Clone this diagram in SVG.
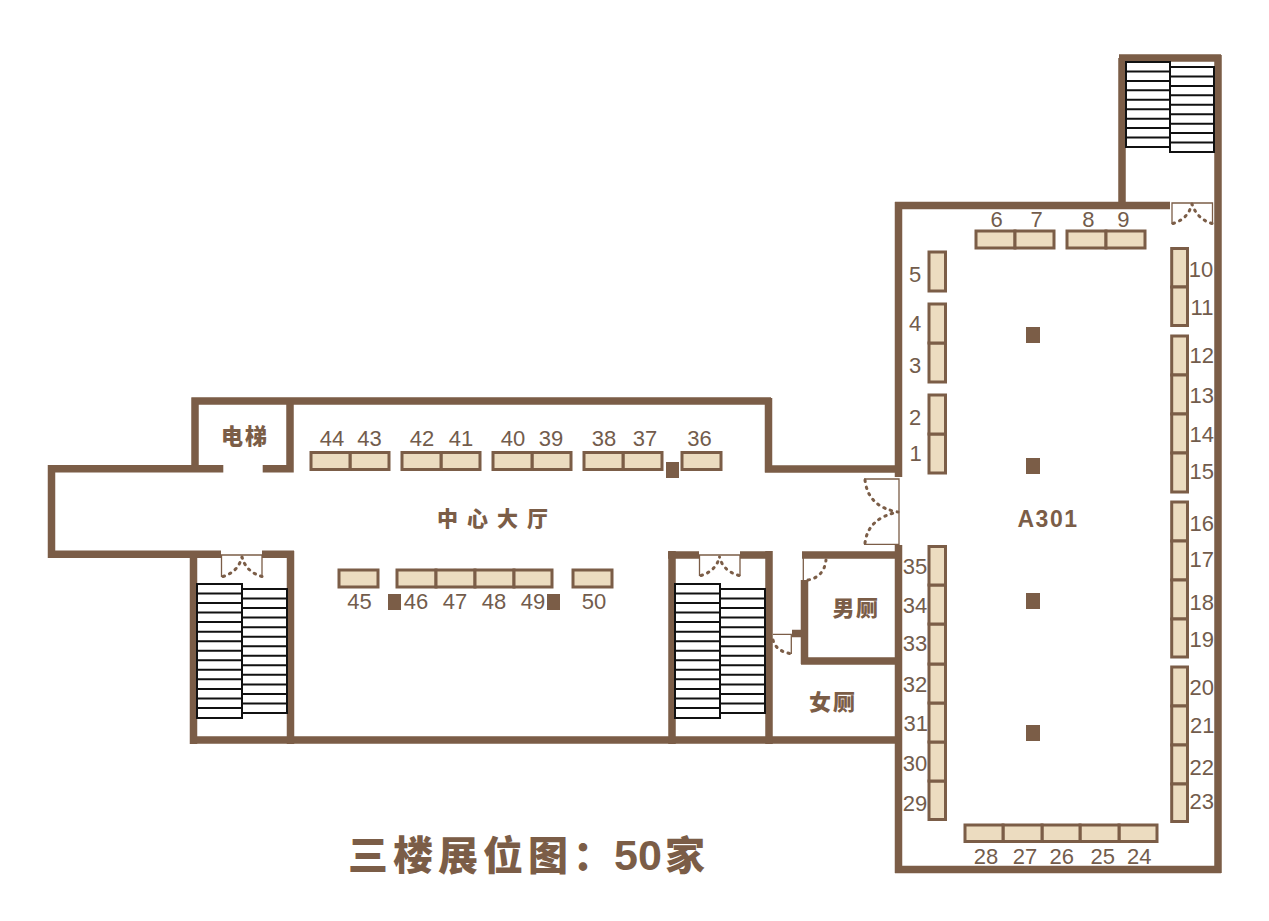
<svg xmlns="http://www.w3.org/2000/svg" width="1269" height="921" viewBox="0 0 1269 921">
<style>
.w{fill:none;stroke:#7b5d47;stroke-width:7.500}
.b{fill:#ecdcc0;stroke:#7b5d47;stroke-width:3}
.p{fill:#7b5d47}
.s{fill:#fff;stroke:#111;stroke-width:2}
.d{fill:none;stroke:#7b5d47;stroke-width:1.300}
.a{fill:none;stroke:#7b5d47;stroke-width:3;stroke-dasharray:1.500 5.500;stroke-linecap:round}
text{fill:#7b5d47;font-family:"Liberation Sans","Noto Sans CJK SC",sans-serif}
.n{font-size:22px;text-anchor:middle;fill:#725c4c;transform:translateY(.7px)}
.c{font-family:"Noto Sans CJK SC","Liberation Sans",sans-serif;font-weight:900;font-size:22px;text-anchor:middle}
</style>
<rect width="1269" height="921" fill="#fff"/>
<g id="connectors">
<path class="w" d="M1170 205.500H895M898.500 202V477M898.500 545V873M895 869.500H1221M1218 55V873M1119 58H1221M1122 58V205"/>
<path class="w" d="M191.500 401H771M195 397.500V469M290 401V472.500M48 468.700H223.300M262.700 468.700H293.500M51.500 465V558M48 554.300H221M262 554.300H294M193.500 551V744M290.500 551V744M190 740H898M768.500 398V472.500M765 469H899"/>
<path class="w" d="M668 555H699M740 555H772.700M672 551V744M769 551V744M802 555H901M804.500 580V664M801 661H898M792 633.500H804.500"/>
</g>
<g id="stairs">
<path class="s" d="M1126 62H1170V147H1126ZM1126 71.500H1170M1126 81H1170M1126 90.300H1170M1126 99.800H1170M1126 109.200H1170M1126 118.700H1170M1126 128.100H1170M1126 137.600H1170"/>
<path class="s" d="M1170 67H1214V152H1170ZM1170 76.500H1214M1170 86H1214M1170 95.300H1214M1170 104.800H1214M1170 114.200H1214M1170 123.700H1214M1170 133.100H1214M1170 142.600H1214"/>
<path class="s" d="M197 584H242V718H197ZM197 593.500H242M197 603.100H242M197 612.600H242M197 622.100H242M197 631.700H242M197 641.200H242M197 650.700H242M197 660.300H242M197 669.800H242M197 679.300H242M197 688.900H242M197 698.400H242M197 707.900H242"/>
<path class="s" d="M242 589H287V713H242ZM242 598.500H287M242 608.100H287M242 617.600H287M242 627.200H287M242 636.700H287M242 646.200H287M242 655.800H287M242 665.300H287M242 674.800H287M242 684.400H287M242 693.900H287M242 703.500H287"/>
<path class="s" d="M675 584H720V718H675ZM675 593.500H720M675 603.100H720M675 612.600H720M675 622.100H720M675 631.700H720M675 641.200H720M675 650.700H720M675 660.300H720M675 669.800H720M675 679.300H720M675 688.900H720M675 698.400H720M675 707.900H720"/>
<path class="s" d="M720 589H765V713H720ZM720 598.500H765M720 608.100H765M720 617.600H765M720 627.200H765M720 636.700H765M720 646.200H765M720 655.800H765M720 665.300H765M720 674.800H765M720 684.400H765M720 693.900H765M720 703.500H765"/>
</g>
<g id="doors">
<path class="d" d="M1172 224V203H1212.500V224"/>
<path class="a" d="M1173 223.500Q1188 219 1192 204M1212 223.500Q1197 219 1192 204"/>
<path class="d" d="M221.500 577V555H262V577"/>
<path class="a" d="M223 576.500Q238 572 242 557M262 576.500Q246 572 242 557"/>
<path class="d" d="M699.500 576V555H740V576"/>
<path class="a" d="M701 575.500Q716 571 719.500 557M739 575.500Q723 571 719.500 557"/>
<path class="d" d="M864 479H899V544.300H864"/>
<path class="a" d="M865 480Q868 507 898 512M865 543Q868 518 898 512"/>
<path class="d" d="M803.300 556V580"/>
<path class="a" d="M808 580Q824 577 826 560"/>
<path class="d" d="M773 634.300H791.300V654"/>
<path class="a" d="M773 640Q776 651 790 653.500"/>
</g>
<g id="pillars">
<rect class="p" x="1026" y="327" width="14" height="16"/>
<rect class="p" x="1026" y="458" width="14" height="16"/>
<rect class="p" x="1026" y="593" width="14" height="16"/>
<rect class="p" x="1026" y="725" width="14" height="16"/>
<rect class="p" x="666" y="462" width="13" height="16"/>
<rect class="p" x="388" y="594" width="13" height="16"/>
<rect class="p" x="547" y="594" width="13" height="16"/>
</g>
<g id="room-labels">
<text class="c" x="245" y="444" style="letter-spacing:2px">电梯</text>
<text class="c" x="497" y="526" style="font-size:21px;letter-spacing:9px">中心大厅</text>
<text class="c" x="856" y="615.500" style="letter-spacing:1.500px">男厕</text>
<text class="c" x="833" y="710" style="letter-spacing:2px">女厕</text>
<text x="1048" y="526.700" style="font-size:23px;font-weight:700;letter-spacing:1.500px;text-anchor:middle">A301</text>
<text y="869.500" style="font-family:'Liberation Sans','Noto Sans CJK SC',sans-serif;font-size:40px;font-weight:900"><tspan x="348" style="letter-spacing:5px">三楼展位图：</tspan><tspan x="614" style="font-size:43px;font-weight:700">50</tspan><tspan x="665">家</tspan></text>
</g>
<g id="booth-1"><rect class="b" x="929" y="434" width="16.500" height="39"/><text class="n" x="915.500" y="460.700">1</text></g>
<g id="booth-2"><rect class="b" x="929" y="395" width="16.500" height="39"/><text class="n" x="915" y="424.300">2</text></g>
<g id="booth-3"><rect class="b" x="929" y="343" width="16.500" height="39"/><text class="n" x="915" y="372.700">3</text></g>
<g id="booth-4"><rect class="b" x="929" y="304" width="16.500" height="39"/><text class="n" x="915" y="330.700">4</text></g>
<g id="booth-5"><rect class="b" x="929" y="252" width="16.500" height="39"/><text class="n" x="915" y="281">5</text></g>
<g id="booth-6"><rect class="b" x="976" y="231" width="39" height="17"/><text class="n" x="996.700" y="226.700">6</text></g>
<g id="booth-7"><rect class="b" x="1015" y="231" width="39" height="17"/><text class="n" x="1036.700" y="226.700">7</text></g>
<g id="booth-8"><rect class="b" x="1067" y="231" width="39" height="17"/><text class="n" x="1088.300" y="226.700">8</text></g>
<g id="booth-9"><rect class="b" x="1106" y="231" width="39" height="17"/><text class="n" x="1123.300" y="226.700">9</text></g>
<g id="booth-10"><rect class="b" x="1171.700" y="248.500" width="15.800" height="38.500"/><text class="n" x="1201" y="276.700">10</text></g>
<g id="booth-11"><rect class="b" x="1171.700" y="287" width="15.800" height="38.500"/><text class="n" x="1202" y="314">11</text></g>
<g id="booth-12"><rect class="b" x="1171.700" y="336" width="15.800" height="39"/><text class="n" x="1201.700" y="362.700">12</text></g>
<g id="booth-13"><rect class="b" x="1171.700" y="375" width="15.800" height="39"/><text class="n" x="1201.700" y="402">13</text></g>
<g id="booth-14"><rect class="b" x="1171.700" y="414" width="15.800" height="39"/><text class="n" x="1201.700" y="441.300">14</text></g>
<g id="booth-15"><rect class="b" x="1171.700" y="453" width="15.800" height="39"/><text class="n" x="1201.700" y="478.300">15</text></g>
<g id="booth-16"><rect class="b" x="1171.700" y="502" width="15.800" height="39"/><text class="n" x="1201.700" y="530.700">16</text></g>
<g id="booth-17"><rect class="b" x="1171.700" y="541" width="15.800" height="39"/><text class="n" x="1201.700" y="566">17</text></g>
<g id="booth-18"><rect class="b" x="1171.700" y="580" width="15.800" height="39"/><text class="n" x="1201.700" y="609">18</text></g>
<g id="booth-19"><rect class="b" x="1171.700" y="619" width="15.800" height="38"/><text class="n" x="1201.700" y="646">19</text></g>
<g id="booth-20"><rect class="b" x="1171.700" y="667" width="15.800" height="39"/><text class="n" x="1201.700" y="694">20</text></g>
<g id="booth-21"><rect class="b" x="1171.700" y="706" width="15.800" height="39"/><text class="n" x="1202.300" y="732.700">21</text></g>
<g id="booth-22"><rect class="b" x="1171.700" y="745" width="15.800" height="39"/><text class="n" x="1201.700" y="774">22</text></g>
<g id="booth-23"><rect class="b" x="1171.700" y="784" width="15.800" height="37.500"/><text class="n" x="1201.700" y="808.700">23</text></g>
<g id="booth-24"><rect class="b" x="1119" y="825" width="38" height="16.500"/><text class="n" x="1139.300" y="863">24</text></g>
<g id="booth-25"><rect class="b" x="1080" y="825" width="39" height="16.500"/><text class="n" x="1102.700" y="863">25</text></g>
<g id="booth-26"><rect class="b" x="1042" y="825" width="38" height="16.500"/><text class="n" x="1061.700" y="863">26</text></g>
<g id="booth-27"><rect class="b" x="1003" y="825" width="39" height="16.500"/><text class="n" x="1025" y="863">27</text></g>
<g id="booth-28"><rect class="b" x="965" y="825" width="38" height="16.500"/><text class="n" x="986" y="863">28</text></g>
<g id="booth-29"><rect class="b" x="929" y="781" width="16.500" height="38.500"/><text class="n" x="915" y="810.700">29</text></g>
<g id="booth-30"><rect class="b" x="929" y="742" width="16.500" height="39"/><text class="n" x="915" y="770">30</text></g>
<g id="booth-31"><rect class="b" x="929" y="703" width="16.500" height="39"/><text class="n" x="915.700" y="730">31</text></g>
<g id="booth-32"><rect class="b" x="929" y="664" width="16.500" height="39"/><text class="n" x="915" y="691">32</text></g>
<g id="booth-33"><rect class="b" x="929" y="624" width="16.500" height="40"/><text class="n" x="915" y="650.700">33</text></g>
<g id="booth-34"><rect class="b" x="929" y="585" width="16.500" height="39"/><text class="n" x="915" y="612">34</text></g>
<g id="booth-35"><rect class="b" x="929" y="546.500" width="16.500" height="38.500"/><text class="n" x="915" y="573.300">35</text></g>
<g id="booth-36"><rect class="b" x="682" y="452.500" width="39" height="17"/><text class="n" x="699.500" y="445">36</text></g>
<g id="booth-37"><rect class="b" x="623" y="452.500" width="39" height="17"/><text class="n" x="645" y="445">37</text></g>
<g id="booth-38"><rect class="b" x="584" y="452.500" width="39" height="17"/><text class="n" x="604" y="445">38</text></g>
<g id="booth-39"><rect class="b" x="532" y="452.500" width="39" height="17"/><text class="n" x="551" y="445">39</text></g>
<g id="booth-40"><rect class="b" x="493" y="452.500" width="39" height="17"/><text class="n" x="513" y="445">40</text></g>
<g id="booth-41"><rect class="b" x="441" y="452.500" width="39" height="17"/><text class="n" x="461" y="445">41</text></g>
<g id="booth-42"><rect class="b" x="402" y="452.500" width="39" height="17"/><text class="n" x="422" y="445">42</text></g>
<g id="booth-43"><rect class="b" x="350" y="452.500" width="39" height="17"/><text class="n" x="369.500" y="445">43</text></g>
<g id="booth-44"><rect class="b" x="311" y="452.500" width="39" height="17"/><text class="n" x="332" y="445">44</text></g>
<g id="booth-45"><rect class="b" x="339" y="570" width="39" height="17"/><text class="n" x="359.500" y="608.500">45</text></g>
<g id="booth-46"><rect class="b" x="397" y="570" width="39" height="17"/><text class="n" x="416" y="608.500">46</text></g>
<g id="booth-47"><rect class="b" x="436" y="570" width="39" height="17"/><text class="n" x="455" y="608.500">47</text></g>
<g id="booth-48"><rect class="b" x="475" y="570" width="39" height="17"/><text class="n" x="494" y="608.500">48</text></g>
<g id="booth-49"><rect class="b" x="514" y="570" width="38" height="17"/><text class="n" x="533" y="608.500">49</text></g>
<g id="booth-50"><rect class="b" x="573" y="570" width="39" height="17"/><text class="n" x="594" y="608.500">50</text></g>
</svg>
